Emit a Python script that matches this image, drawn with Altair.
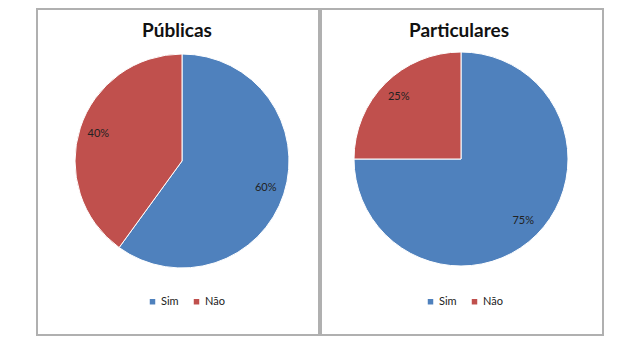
import altair as alt
import pandas as pd

categories = ["Sim", "Não"]
publicas = [60, 40]
particulares = [75, 25]
titles = ["Públicas", "Particulares"]
colors = ["#4F81BD", "#C0504D"]

FONT = "Lato"


def panel(title, values, cx, cy, tx, lx):
    df = pd.DataFrame({"cat": categories, "val": values, "order": list(range(len(categories)))})
    df["label"] = [f"{v}%" for v in values]
    base = alt.Chart(df).encode(
        theta=alt.Theta("val:Q", stack=True),
        order=alt.Order("order:Q"),
    )
    color = alt.Color(
        "cat:N",
        scale=alt.Scale(domain=categories, range=colors),
        sort=categories,
        legend=alt.Legend(
            title=None, orient="none", legendX=lx, legendY=287,
            direction="horizontal", symbolType="square", symbolSize=30,
            symbolStrokeWidth=0, labelFontSize=11, labelFont=FONT,
            labelColor="#222", columnPadding=12, labelOffset=3,
        ),
    )
    pie = base.mark_arc(radius=107, stroke="white", strokeWidth=1).encode(
        color=color, x=alt.value(cx), y=alt.value(cy)
    )
    text = base.mark_text(radius=88, font=FONT, fontSize=11, color="#222").encode(
        text="label:N", x=alt.value(cx), y=alt.value(cy)
    )
    ttl = alt.Chart(pd.DataFrame({"t": [title]})).mark_text(
        font=FONT, fontSize=19, fontWeight="bold", color="#111"
    ).encode(text="t:N", x=alt.value(tx), y=alt.value(22))
    return alt.layer(pie, text, ttl).properties(width=282, height=326)


left = panel(titles[0], publicas, 145, 152, 140, 110)
right = panel(titles[1], particulares, 140, 150, 138, 104)

chart = (
    alt.hconcat(left, right, spacing=0)
    .resolve_scale(color="independent")
    .properties(
        padding={"left": 36, "top": 8, "right": 0, "bottom": 0},
        background="white",
    )
    .configure_view(stroke="#b0b0b0", strokeWidth=2)
)

chart.save("out.html", embed_options={"renderer": "svg", "actions": False})
